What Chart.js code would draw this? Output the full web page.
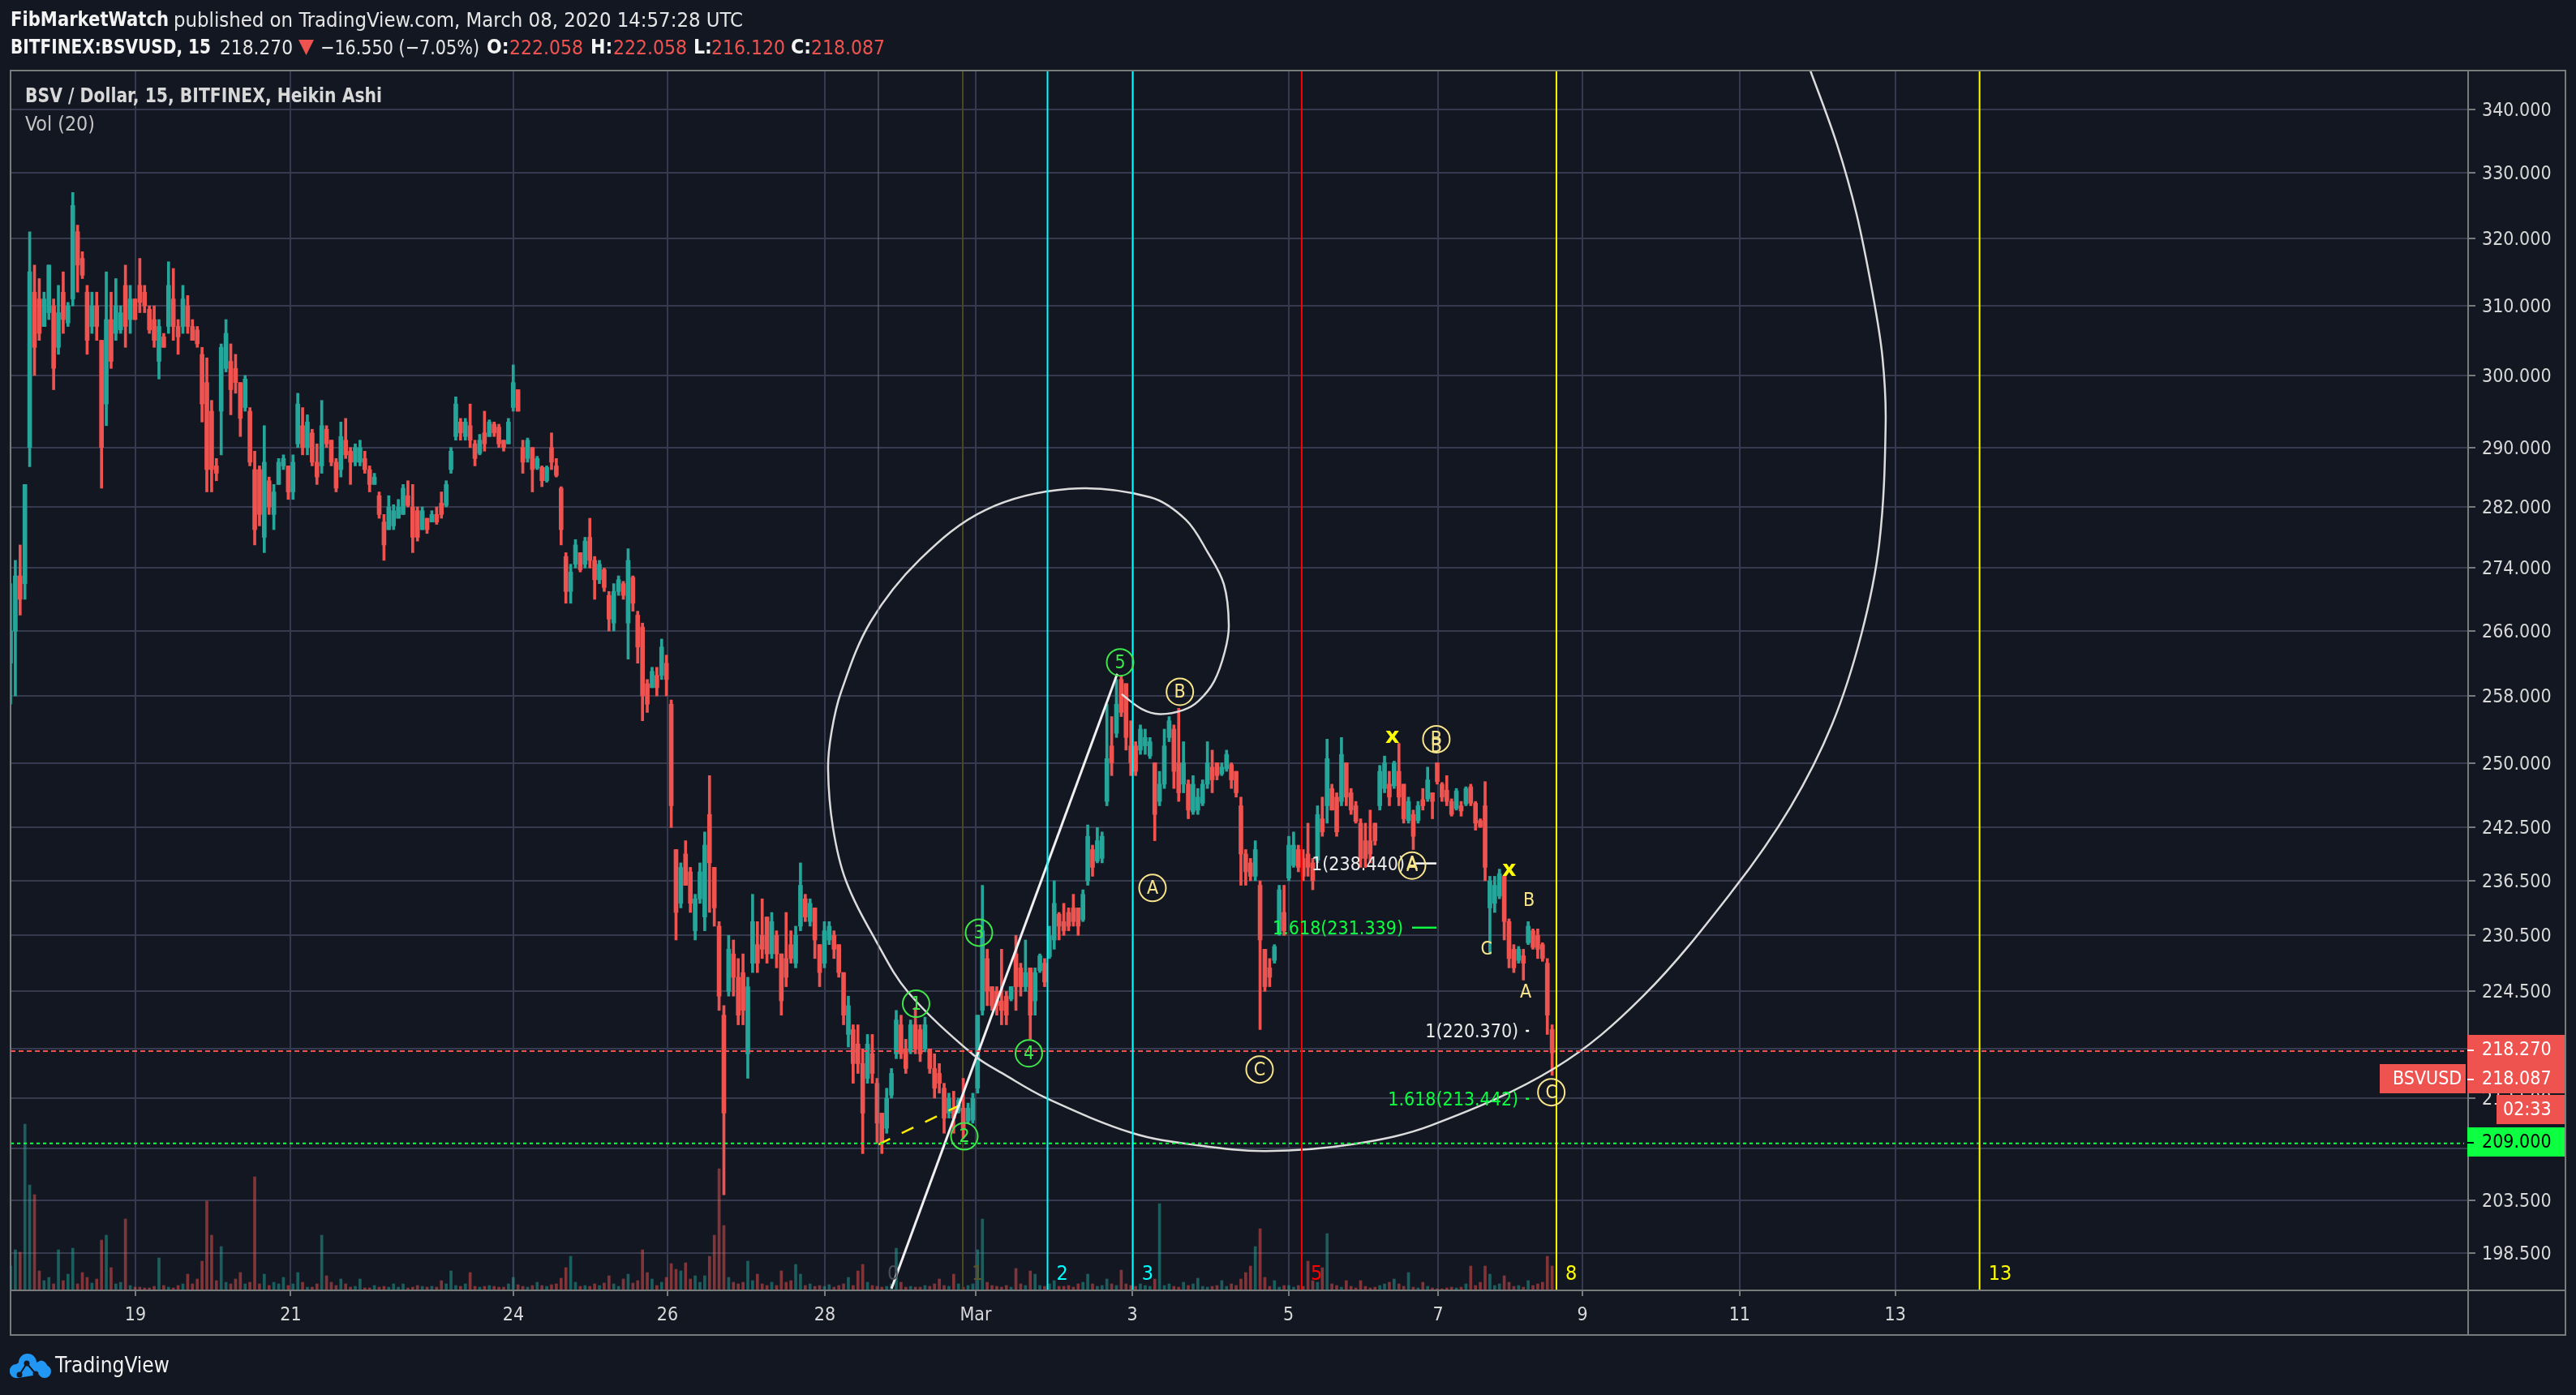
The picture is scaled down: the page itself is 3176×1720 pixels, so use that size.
<!DOCTYPE html>
<html><head><meta charset="utf-8">
<style>html,body{margin:0;padding:0;background:#131722}canvas{display:block}</style>
<script src="https://cdn.jsdelivr.net/npm/chart.js@4/dist/chart.umd.js"></script>
</head><body><canvas id="c" width="3176" height="1720"></canvas>
<script>
const barHigh=[272,275,277,285,321,316,314,312,316,311,
313,315,310.5,327,322,318,313,312,312,305,
315,312,314,310,316,313,311,317,313,310,
310,308,306,316.5,315.5,308,313,311.5,308,307,
304,302.5,296.5,288.5,304.5,308,304.5,303,299,300,
295.5,289.5,287.5,293,286,285,288.5,289,287.5,289,
297.5,295.5,294.5,292.5,290.5,296.5,293,291,288.5,293.5,
294,290,290.5,291,289.5,287.5,286.5,284,281,283.5,
282.3,283,285,285.5,285,282,282,280.5,281.5,282,
284,285.5,290,297,294,294,296,291,291.8,295,
293.8,293.5,293.2,291,294,301.5,298,291,291.3,290,
288.8,287.5,287.5,292,288.5,284.7,276,274.5,277.7,276,
278,280.5,275.5,275,274,271,272,273,272.3,276.5,
273,268.5,267,260,261.5,261.5,265,263,257.5,240,
238.5,241,238,235,238.5,242,248.5,238,232,223,
230.5,230,228,228.5,226,235,232,234.5,232.5,233,
231,228.5,233,231,231.5,238.5,235,234.5,233.5,229.5,
232,232,231,229.5,226.5,224,221,221,218.5,220,
220,215.5,212,214.5,216.5,222.5,222,219.5,221.5,222.8,
221,221.8,218.5,218,217,215,214,214.2,213.5,215.5,
213,214,222,236,229,225,225,229,224.5,225,
230.5,227.5,230,227,227,228.5,228,231.5,236.5,233,
234,233.5,235,233.5,235.5,242.8,240.5,242.5,242,257,
255.5,260,260.5,259.5,255,252.5,254.5,254,253,250,
249,254,255.5,254.5,256.5,252.5,248,248.5,247,248,
252.5,251.5,250,250,251.5,250,249,246,240,239,
241,236.5,229,228,229.5,236,236,241.5,242,240.5,
240,243,239,245,246,252.8,247.5,246.5,253,250,
247,245.5,243.5,243,244.5,243,249.7,250.8,249,250.2,
252.3,247.5,246,244.5,245.5,247,249.5,246.5,250,247.7,
248.5,245.8,247,245.5,247.2,247.5,245.5,243.5,247.8,237,
237,237.8,237,232.3,229.5,229.3,229,232,231.2,231.2,
229.7,228,221];
const barLow=[257,258,268,270,287.4,300,305,307,308,298,
303,306,307,310,312,314,303,306,305,284.5,
293,301,305,306,304,306,308,309,309,306,
304,299.5,304,306,305,303,306,306,305,304,
293.5,284,284,285.5,289,300.5,294.5,297.5,291.5,295,
287.5,277,279.5,276,281,279,285,287,283,283,
290,289,289,287.5,285,286.5,290,287.5,284,286,
288.5,285,287.5,287.5,286.5,284,285,280.5,275,279,
279,280.5,281,282,276,277.5,279,278.5,280,279.7,
280.5,282,286.5,291,291,291,290,287.5,289,289.5,
291.5,291.5,290,289.5,290.5,295,295,286.5,288,284,
287,284.7,285.3,287,286,277,269.5,269.5,274,273.5,
274,274,270,272,271,266,266,270.5,270,262.5,
268.5,262,255,256,259,258,260,258,242.5,230,
233.5,236,233,230,234,231,233,231.5,222.5,204,
224,224,221,221,215.5,226.5,226.5,228,227.5,228,
227,222,225,227.5,227,231,232,231.5,228,225,
227,229.5,228,226,221,218.7,215,216,208,215,
215,209,208,210,213.5,217.5,217.5,216,218,218,
217.2,218.2,216,213.5,214,210,211.5,210,212,209.5,
211,211,214,222,223,222.5,222,221,221,223.5,
222.5,224,224.5,219.5,222,226.5,225,228,229,230,
230.5,231,231.5,230.5,232,236,237,238.5,238.5,245,
248.5,253,255.5,251.5,248.5,248.5,251,251,250.5,241,
245,247,252.5,247,245.5,246.5,243.5,244,244,245,
247,246.5,248,248.5,249,247,246,236,236,236.5,
236.5,220.5,224.5,225,227.5,230.5,230.5,236.5,238,237.5,
236.5,237,235.5,238.5,241.5,243,244.5,241.5,245,245,
244,243,238,238,238.5,240.5,244.5,246.5,245,247,
245,243,243,240,243,244.5,245.5,243.5,247.5,245.5,
245,243.8,244.5,243.8,245,245,242.2,242.5,236.5,228.5,
233,234.5,230,227,226.5,227.5,225.7,229.5,229,228,
227.7,220,215.8];
const barOpen=[262,266,273,272,290,312,311,307,309,310,
304,312,307.5,311,321,317,312,307,310,305,
296,308,306,306.5,313,308,311,313,312,309.5,
308,302,305.5,307,311,307,307,310,307,306.5,
303,299,295,287.5,295,301,302,301,299,295.5,
295,287,287,278,285.5,281,285,287.5,287.5,284,
290.5,293,290,292,288,287.5,292.5,291,288,287,
291,289.5,288,288,288.5,287,285,283.5,280,279,
279.5,280.5,281,283.5,282,281.5,279,280.5,280,281,
282.5,282.2,287,291.5,293.5,291.5,293,290.5,289.2,292,
291.5,293.2,292.8,291,290.5,295.5,298,290,288.5,290,
287.2,287.3,285.5,290,287.5,284.5,275.5,271,274.5,276,
274.5,278,275,272.5,273.8,270.5,267,271,272,267,
272.8,268,266.5,259.5,259,260.5,260.5,262,257,240,
234,239.5,237.5,231,234.5,232.5,244,238,231.5,222,
224.5,228.5,226,226.5,218,227.5,229.5,230.5,232.5,228.5,
230.5,228.5,228,229.5,227.5,231.5,234.5,232,233.5,229.5,
227.5,230,230.5,229.5,226.5,220,220.5,219,217,215.5,
218,215,212,210.5,213.8,218,221,218.5,218.2,221,
220.5,218.5,218.5,216.5,216,214.5,212,212.5,212.2,212.5,
211.2,211.3,214.5,222.5,228,225,224.5,223.5,224,223.7,
228.5,227,225,227,223.5,226.7,227.5,228.2,230,232.8,
232,233,233.5,233.5,232.2,236.5,240,238.7,239,245.5,
252,253.5,260,259.5,252,252,251.5,252,250.8,250,
245.5,247.5,253,254,250,247.5,247.5,244.3,244.5,245.3,
247.5,249.5,250,248.7,249.3,249.8,249,245,239.5,238.5,
237,236,229,227,227.8,230.7,233,236.8,238.2,240,
239,239.5,238.5,238.8,243.5,245,247,246,245.5,250,
246.5,245,243,241,241,243,245,247,247.5,247.3,
249,247.5,243.3,244,243.3,245.7,245.8,246.5,250,247.5,
246.8,245.5,244.7,245,245.2,247.2,245.3,243.3,245,233.5,
234,234.8,237,232,229,227.8,228.3,229.7,231,230.5,
229.5,227.5,220.5];
const barClose=[266,273,270,285,315,304,306,311,316,301,
309,308,310,325,316,314.5,305,310,307,290,
308,302,310,309,307,311,308,310.5,310,306.5,
305,307,304,313,307,305.5,311,307,305,304.5,
296,287,287,286.5,304,306,298,299,294,299.5,
288,279,281,288,282,284,288,288.5,284,288,
296,290,293.5,288,286,293,290.5,288,284.5,291.5,
289,288,290,290,287,285,286,281,277,282,
281.5,282,284.5,282.2,278,278,281.5,279,281,280,
281,285,289.5,296,292,293.5,291,288.5,291,290.5,
293.5,292,290.5,290,293.5,299,295,288,291,287,
288.5,285.5,287.3,288,286.2,279,271,273.5,277,273.8,
277.5,275,272.5,274.5,271.5,267.5,271,272.5,270.5,275,
269.5,264,258,257,261,259,264,260,245,233,
238,236,234,234.5,237.5,240.5,238.5,233.5,224,212,
229,226,222,222.5,225,232,227.5,229,228.5,232,
228.5,223.5,226,228,230.5,236,232.5,234,230,226.5,
231,231.5,229,226.5,222,223,217,217,212,219,
216,211,209,213.5,216,221.5,218,216.5,221,218.5,
218,221,216.5,214.5,215,211.5,213.5,211.5,213.3,210.5,
212.5,213.5,222,231,224.5,223,223,222.5,222,225,
225,225,226.5,222,226.5,228.3,225.5,230.5,234,231.5,
231,231.5,232,231.5,235,241.5,238,241,241.5,250.5,
250,257,256,253,250,249,254,253,252.5,244,
247.5,252,255,249,246.5,250,244.5,247.5,246,247.5,
250,248,248.5,249.5,251,248,246.5,239.5,237.5,237,
240,230,225,226,229.3,235.5,231,240.5,240.5,238,
237,238,236.5,244,242,250.5,244.5,242,251,246,
244.5,243.2,239,239,239.5,241,249,250,246,250,
246,243.5,245.5,241.5,245,245,248,245.5,247.8,246,
245.5,244,246.7,244.4,247,245.3,243,242.6,238,236.5,
236,237.3,232,228,227,229,227.5,231.5,229.2,229,
228,222,218.1];
const barVolume=[30,50,47,205,130,118,24,12,16,8,
50,12,20,52,8,22,16,9,14,62,
68,28,8,10,88,6,4,4,3,3,
5,40,6,4,3,6,8,20,8,14,
36,110,68,12,54,10,8,14,22,8,
10,140,8,20,6,10,8,16,6,8,
22,10,4,4,8,68,18,10,6,14,
8,4,5,14,3,3,6,4,5,4,
8,4,8,3,4,6,5,4,5,4,
12,8,24,6,5,8,22,5,4,5,
6,5,4,4,8,16,7,5,4,6,
10,6,5,7,8,15,28,42,10,5,
6,5,8,6,9,18,8,5,14,20,
9,12,50,22,14,6,10,16,33,26,
24,34,14,18,10,18,42,68,150,80,
16,10,8,10,36,12,20,8,6,10,
6,24,10,12,32,20,6,8,5,6,
5,7,4,6,8,16,6,24,32,10,
6,5,4,5,8,52,10,4,5,4,
4,6,5,8,14,6,5,20,8,4,
6,8,50,88,10,6,5,4,6,4,
27,8,6,24,20,6,5,8,12,5,
5,6,4,8,10,20,8,5,6,14,
8,6,25,8,6,5,8,6,5,14,
107,6,8,5,4,10,6,8,15,5,
4,5,6,12,5,8,6,14,22,30,
54,76,16,5,12,4,6,6,4,6,
5,36,12,10,28,70,8,6,4,12,
5,3,12,5,3,4,6,8,10,14,
8,5,22,4,3,10,5,3,2,2,
3,4,3,4,8,30,6,10,30,20,
6,8,18,10,5,6,4,12,6,8,
10,42,30];
const BAR_STEP=6;
const priceTicks=[340,330,320,310,300,290,282,274,266,258,250,242.5,236.5,230.5,224.5,218.5,213.5,208.5,203.5,198.5];
const timeTickBars=[156.5,351.2,630.2,823.4,1020.6,1209.6,1405.8,1601.6,1789,1970,2167,2362];
const timeTickLabels=['19','21','24','26','28','Mar','3','5','7','9','11','13'];
const fibZoneBars=[1087.6,1193.4,1299.6,1406.5,1618.2,1937.4,2467.7];
const fibZoneLabels=['0','1','2','3','5','8','13'];
const spiralBar=[1392.6,1418,1440.4,1470,1489,1508.5,1521.7,1526.8,1520.7,1500,1473,1428,1326.5,1221.8,1139.5,1077.5,1040.9,1029,1024.6,1030.7,1047,1084.6,1125,1206.6,1247.3,1298,1406.8,1489,1573.5,1684.3,1780.9,1936.4,2046,2159,2231,2283,2319.6,2342,2350,2346,2334,2313.5,2289,2255.6,2233];
const spiralPrice=[258.2,256.4,255.8,256.3,257.4,259.8,263.4,266.7,271.9,276.1,280.3,283.3,284.4,281.6,275.1,267.1,258.5,253.7,249.3,242.5,236.5,229.9,224.4,217.9,215.8,213.5,210,208.8,208.25,208.95,210.8,216.6,224,235.5,244.9,254.6,265.6,277.2,293.2,302.6,311.6,323.7,334.5,346.3,354];
const trendBar=[1104,1387];
const trendPrice=[195.2,260.7];
const dashBar=[1087.6,1190];
const dashPrice=[208.9,212.8];
const lastPrice=218.27, stopPrice=209;
const fibLevels=[238.44,231.339,220.37,213.442];
const fibLevelLabels=['1(238.440)','1.618(231.339)','1(220.370)','1.618(213.442)'];
const fibLevelFrom=[1758.5,1756.5,1899,1899];
const fibLevelTo=[1787,1787,1903,1903];
const waveText=['1','2','3','4','5'];
const waveBar=[1134.9,1195.4,1213.7,1276.2,1390.6];
const wavePrice=[223.2,209.7,230.8,218.05,262.1];
const abcText=['B','A','C','A','B','C'];
const abcBar=[1465.5,1431.2,1565.4,1756.5,1786.9,1931];
const abcPrice=[258.5,235.7,216.4,238.2,252.8,214.1];
const plainText=['B','A','C','B','A'];
const plainBar=[1786.9,1756.5,1849.8,1902.9,1898.9];
const plainPrice=[252.1,238.5,229.1,234.4,224.5];
const xMarkBar=[1731.9,1878.2];
const xMarkPrice=[253.2,237.9];

const FONT='"DejaVu Sans Condensed","DejaVu Sans",sans-serif';
const BG='#131722',GRID='#363a4e',AXIS='#787b7b',TEAL='#26a69a',RED='#ef5350',LIME='#0cff41';
const barX=barOpen.map((_,i)=>i*BAR_STEP);
const up=barOpen.map((o,i)=>barClose[i]>=o);
const col=up.map(u=>u?TEAL:RED);
const volCol=up.map(u=>u?'rgba(38,166,154,0.5)':'rgba(239,83,80,0.5)');
const zoneColors=['#6a6d78','#4c4622','#00ffff','#00ffff','#ff0000','#ffff00','#ffff00'];
const zoneLabelColors=['#4a4d58','#5a5426','#00ffff','#00ffff','#ff0000','#ffff00','#ffff00'];
const yMin=195.03,yMax=346.3,xMax=3080;

const line=(data,color,width,extra)=>Object.assign({type:'line',data,borderColor:color,borderWidth:width,pointRadius:0,fill:false,tension:0,order:1,parsing:{xAxisKey:'x',yAxisKey:'y'}},extra||{});
const datasets=[
 {type:'bar',data:barX.map((x,i)=>({x,y:barVolume[i]})),backgroundColor:volCol,yAxisID:'vol',barThickness:3,grouped:false,order:6},
 {type:'bar',data:barX.map((x,i)=>({x,y:[barLow[i],barHigh[i]]})),backgroundColor:col,yAxisID:'y',barThickness:3,grouped:false,order:4},
 {type:'bar',data:barX.map((x,i)=>({x,y:[barOpen[i],barClose[i]]})),backgroundColor:col,yAxisID:'y',barThickness:5,grouped:false,order:3},
];
fibZoneBars.forEach((b,i)=>datasets.push(line([{x:b,y:yMin},{x:b,y:yMax}],zoneColors[i],i==0?1:2,{order:i==1?5:1})));
datasets.push(line([{x:0,y:lastPrice},{x:3075,y:lastPrice}],RED,2,{borderDash:[6,4]}));
datasets.push(line([{x:0,y:stopPrice},{x:3075,y:stopPrice}],LIME,2,{borderDash:[4,4]}));
datasets.push(line(spiralBar.map((x,i)=>({x,y:spiralPrice[i]})),'#dcdcdc',2.5,{tension:0.35}));
datasets.push(line(trendBar.map((x,i)=>({x,y:trendPrice[i]})),'#f0f0f0',3));
datasets.push(line(dashBar.map((x,i)=>({x,y:dashPrice[i]})),'#ffee00',2.5,{borderDash:[16,16],order:2}));
fibLevels.forEach((p,i)=>datasets.push(line([{x:fibLevelFrom[i],y:p},{x:fibLevelTo[i],y:p}],i%2?LIME:'#ffffff',2.5)));

// keep the price labels optically centred on their grid lines
const nudgeLabels=(s)=>{ if(s._nudged) return; s._nudged=true; const f=s._computeLabelItems;
  s._computeLabelItems=function(a){const it=f.call(this,a);it.forEach(o=>{o.options.translation[1]+=2;});return it;}; };

const annotate={id:'annotate',
 beforeDraw(c){const g=c.ctx;g.save();g.fillStyle=BG;g.fillRect(0,0,c.width,c.height);g.restore();},
 afterDraw(c){
  const g=c.ctx,X=c.scales.x,Y=c.scales.y;
  const T=(s,x,y,color,font,align,maxW)=>{g.font=font;g.fillStyle=color;g.textAlign=align||'left';g.textBaseline='middle';if(maxW)g.fillText(s,x,y+2,maxW);else g.fillText(s,x,y+2);};
  g.save();
  // frame
  g.strokeStyle=AXIS;g.lineWidth=2;g.strokeRect(13,87,3150,1559);
  g.beginPath();g.moveTo(3043,87);g.lineTo(3043,1646);g.moveTo(13,1591);g.lineTo(3163,1591);g.stroke();
  // header
  const R=`25.5px ${FONT}`,B=`bold 24.5px ${FONT}`;
  T('FibMarketWatch',13,24,'#f4f4f4',B,'left',195);
  T('published on TradingView.com, March 08, 2020 14:57:28 UTC',214,24,'#e6e6e6',R,'left',702);
  T('BITFINEX:BSVUSD, 15',13,58,'#f4f4f4',B,'left',247);
  T('218.270',271,58,'#e6e6e6',R,'left',90);
  g.fillStyle=RED;g.beginPath();g.moveTo(368,49);g.lineTo(387,49);g.lineTo(377.5,68);g.closePath();g.fill();
  T('\u221216.550 (\u22127.05%)',395,58,'#e6e6e6',R,'left',196);
  [['O:',600,628],['H:',728,756],['L:',855,877],['C:',975,1000]].forEach((o,i)=>{
    T(o[0],o[1],58,'#f4f4f4',B,'left');
    T(['222.058','222.058','216.120','218.087'][i],o[2],58,RED,R,'left',91);
  });
  T('BSV / Dollar, 15, BITFINEX, Heikin Ashi',31,118,'#d8d8d8',B,'left',440);
  T('Vol (20)',31,152,'#c4c4c4',R,'left',86);
  // zone labels
  fibZoneLabels.forEach((s,i)=>T(s,X.getPixelForValue(fibZoneBars[i])+11,1569,zoneLabelColors[i],`25px ${FONT}`));
  // fib labels
  const lv=`23px ${FONT}`;
  fibLevels.forEach((p,i)=>T(fibLevelLabels[i],X.getPixelForValue(fibLevelFrom[i])-(i<2?11:9),Y.getPixelForValue(p),i%2?LIME:'#eaeaea',lv,'right'));
  // wave marks
  const ring=(s,b,p,color)=>{const x=X.getPixelForValue(b),y=Y.getPixelForValue(p);g.strokeStyle=color;g.lineWidth=2;g.beginPath();g.arc(x,y,16.5,0,Math.PI*2);g.stroke();T(s,x,y-1,color,`23px ${FONT}`,'center');};
  waveText.forEach((s,i)=>ring(s,waveBar[i],wavePrice[i],'#3fe84a'));
  abcText.forEach((s,i)=>ring(s,abcBar[i],abcPrice[i],'#f8e58c'));
  plainText.forEach((s,i)=>T(s,X.getPixelForValue(plainBar[i]),Y.getPixelForValue(plainPrice[i]),'#f8e58c',`23px ${FONT}`,'center'));
  xMarkBar.forEach((b,i)=>T('x',X.getPixelForValue(b),Y.getPixelForValue(xMarkPrice[i]),'#ffff00',`bold 27px "DejaVu Sans",sans-serif`,'center'));
  // price tags
  const tag=(x0,x1,y0,y1,fill)=>{g.fillStyle=fill;g.fillRect(x0,y0,x1-x0,y1-y0);};
  const tick=(y,color)=>{g.fillStyle=color;g.fillRect(3042,y-1,8,2);};
  const ax=`23px ${FONT}`;
  tag(3042,3162,1276,1312,RED);tick(1295,'#fff');T('218.270',3060,1293,'#fff',ax);
  tag(3042,3162,1312,1348,RED);tick(1331,'#fff');T('218.087',3060,1329,'#fff',ax);
  tag(2934,3040,1312,1348,RED);T('BSVUSD',2950,1329,'#fff',ax);
  tag(3078,3162,1350,1386,RED);T('02:33',3086,1367,'#fff',ax);
  tag(3042,3162,1390,1426,LIME);tick(1409,'#000');T('209.000',3060,1407,'#000',ax);
  // logo
  g.fillStyle='#2196f3';g.beginPath();
  g.arc(34,1680,11,Math.PI,0);g.arc(50,1686,8.5,-Math.PI/2,Math.PI/2);g.lineTo(22,1699);
  g.arc(20,1690,8,Math.PI/2,-Math.PI/2);g.closePath();g.fill();
  g.beginPath();g.arc(55,1691,8,0,Math.PI*2);g.arc(20,1691,8,0,Math.PI*2);g.fill();
  g.strokeStyle=BG;g.lineWidth=2;g.beginPath();g.moveTo(24,1695);g.lineTo(33,1681);g.lineTo(44,1694);g.stroke();
  g.fillStyle=BG;[[24,1695],[33,1681],[44,1694]].forEach(p=>{g.beginPath();g.arc(p[0],p[1],3.5,0,Math.PI*2);g.fill();});
  T('TradingView',68,1683,'#f0f0f0',`26px ${FONT}`,'left',141);
  g.restore();
 }};

new Chart(document.getElementById('c'),{
 type:'bar',
 data:{datasets},
 options:{responsive:false,animation:false,devicePixelRatio:1,
  layout:{padding:{left:13,top:87,right:13,bottom:74}},
  plugins:{legend:{display:false},title:{display:false},tooltip:{enabled:false}},
  datasets:{bar:{borderWidth:0}},
  scales:{
   x:{type:'linear',position:'bottom',min:0,max:xMax,offset:false,
      afterBuildTicks(s){s.ticks=timeTickBars.map(v=>({value:v}));},
      afterFit(s){s.height=55;},
      grid:{offset:false,color:GRID,lineWidth:2,tickColor:AXIS,tickLength:7,drawTicks:true},
      border:{display:false},
      ticks:{autoSkip:false,maxRotation:0,padding:10,color:'#d8d8d8',font:{family:FONT,size:23},callback:(v,i)=>timeTickLabels[i]}},
   y:{type:'logarithmic',position:'right',min:yMin,max:yMax,
      afterBuildTicks(s){s.ticks=priceTicks.map(v=>({value:v}));nudgeLabels(s);},
      afterFit(s){s.width=120;},
      grid:{color:GRID,lineWidth:2,tickColor:AXIS,tickLength:9,drawTicks:true},
      border:{display:false},
      ticks:{autoSkip:false,padding:8,color:'#d8d8d8',font:{family:FONT,size:23},callback:v=>Number(v).toFixed(3)}},
   vol:{type:'linear',position:'right',display:false,min:0,max:1504,grid:{display:false}}
  }
 },
 plugins:[annotate]
});
</script></body></html>
